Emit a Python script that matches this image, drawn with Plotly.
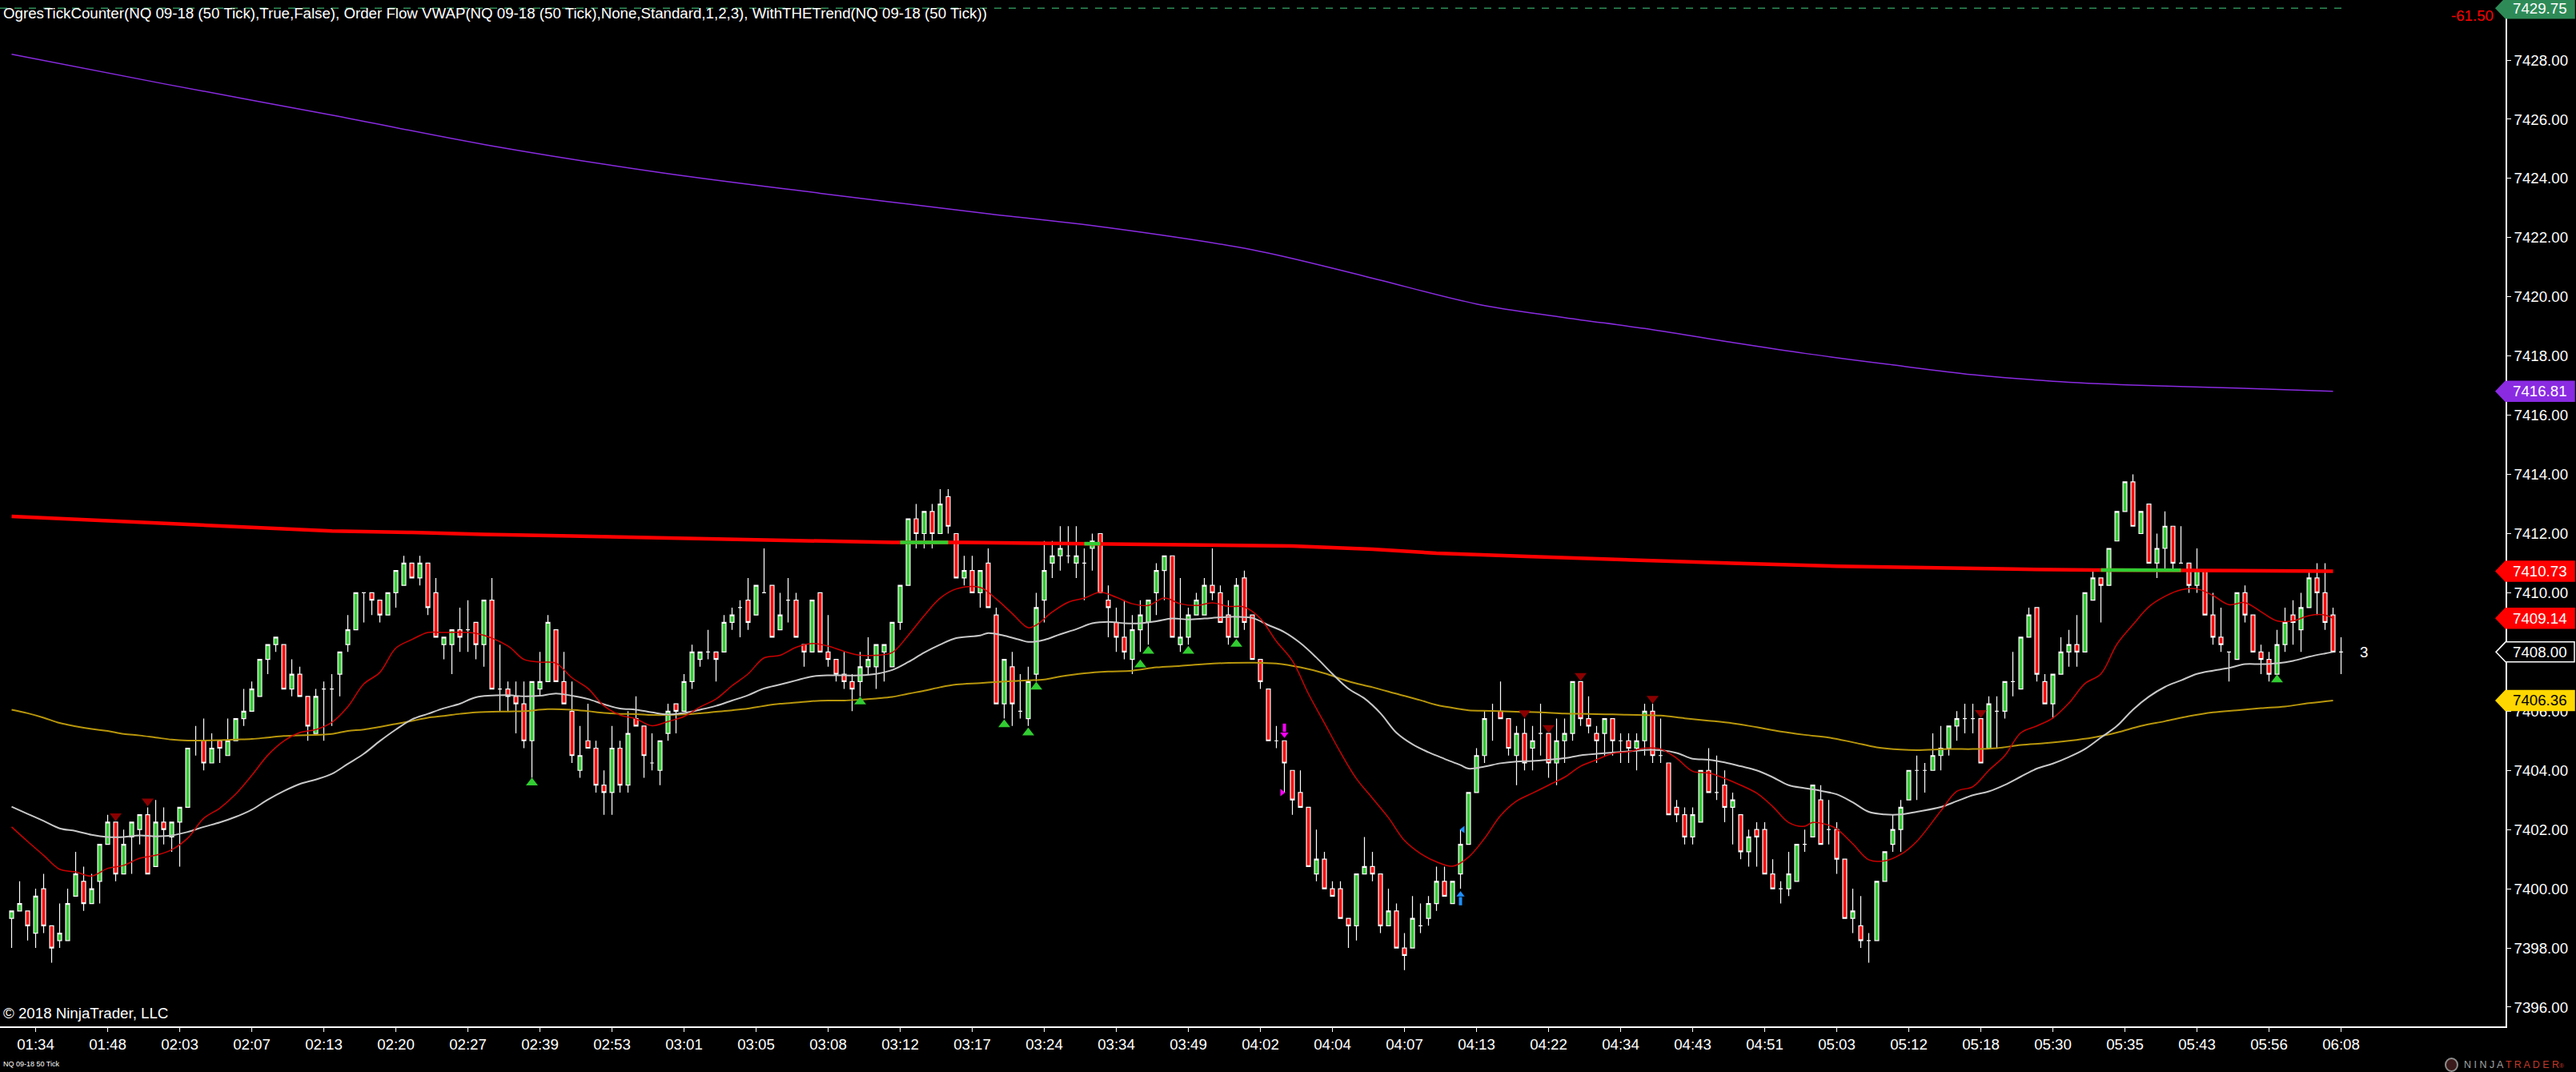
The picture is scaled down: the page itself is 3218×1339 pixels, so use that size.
import plotly.graph_objects as go

# NQ 09-18, 50 tick bars (one value per bar)
opens = [
    7399.0, 7399.25, 7399.25, 7398.5, 7400.0, 7398.75, 7398.25, 7398.25, 7399.75, 7400.25,
    7399.5, 7400.25, 7401.5, 7402.25, 7400.5, 7401.75, 7402.0, 7402.5, 7400.75, 7402.25,
    7401.75, 7402.25, 7402.75, 7405.0, 7405.0, 7404.25, 7405.0, 7404.5, 7405.0, 7405.75,
    7406.0, 7406.5, 7407.75, 7408.25, 7408.25, 7406.75, 7407.25, 7406.5, 7405.25, 7406.75,
    7406.75, 7407.25, 7408.25, 7408.75, 7410.0, 7410.0, 7409.75, 7409.25, 7410.0, 7410.25,
    7411.0, 7410.5, 7411.0, 7410.0, 7408.25, 7408.25, 7408.75, 7408.75, 7409.0, 7408.25,
    7409.75, 7406.75, 7406.75, 7406.5, 7406.25, 7405.0, 7406.75, 7407.0, 7408.75, 7407.0,
    7406.0, 7404.0, 7405.0, 7404.75, 7403.5, 7403.25, 7404.75, 7403.5, 7405.75, 7405.5,
    7404.25, 7404.0, 7405.25, 7406.25, 7406.0, 7407.0, 7407.75, 7408.0, 7408.0, 7408.0,
    7409.0, 7409.5, 7409.75, 7409.25, 7410.0, 7410.25, 7408.75, 7409.75, 7409.75, 7408.25,
    7408.0, 7410.0, 7408.0, 7407.75, 7407.25, 7407.0, 7407.0, 7407.5, 7407.5, 7408.0,
    7407.5, 7409.0, 7410.25, 7412.5, 7412.0, 7412.75, 7412.0, 7413.25, 7412.0, 7410.5,
    7410.75, 7410.0, 7411.0, 7409.25, 7406.25, 7407.5, 7406.0, 7405.75, 7407.25, 7409.75,
    7411.0, 7411.25, 7411.25, 7411.0, 7411.0, 7411.5, 7412.0, 7409.75, 7409.0, 7408.5,
    7407.75, 7408.75, 7409.0, 7410.0, 7410.75, 7411.25, 7408.25, 7408.5, 7409.25, 7409.25,
    7410.25, 7410.0, 7409.25, 7408.5, 7410.5, 7409.25, 7407.75, 7406.75, 7405.0, 7405.0,
    7404.0, 7403.25, 7402.75, 7400.5, 7401.0, 7400.0, 7400.0, 7399.0, 7398.75, 7400.5,
    7400.75, 7400.5, 7398.75, 7399.25, 7398.0, 7398.0, 7398.75, 7399.0, 7399.5, 7400.25,
    7399.5, 7400.5, 7401.5, 7403.25, 7404.5, 7406.0, 7406.0, 7405.75, 7404.5, 7405.25,
    7404.75, 7405.25, 7405.25, 7404.25, 7405.0, 7405.25, 7407.0, 7405.75, 7405.25, 7405.25,
    7405.75, 7405.0, 7405.0, 7404.75, 7405.0, 7406.0, 7404.5, 7404.25, 7402.75, 7402.5,
    7401.75, 7402.25, 7404.0, 7403.25, 7403.5, 7402.75, 7402.5, 7401.25, 7402.0, 7402.0,
    7400.5, 7400.0, 7400.0, 7400.25, 7401.5, 7401.75, 7403.0, 7402.0, 7402.0, 7401.0,
    7399.0, 7398.75, 7398.25, 7398.25, 7400.25, 7401.5, 7402.0, 7403.0, 7404.0, 7404.0,
    7404.0, 7404.5, 7404.75, 7405.5, 7405.75, 7405.75, 7405.75, 7404.75, 7406.0, 7406.0,
    7407.0, 7406.75, 7408.5, 7409.5, 7407.0, 7406.25, 7407.25, 7408.0, 7408.25, 7408.0,
    7409.75, 7410.5, 7410.25, 7411.75, 7412.75, 7413.75, 7412.0, 7413.0, 7411.0, 7411.5,
    7412.25, 7411.0, 7411.0, 7410.25, 7410.75, 7409.25, 7408.5, 7408.0, 7407.75, 7410.0,
    7409.25, 7408.0, 7407.75, 7407.25, 7408.25, 7409.25, 7408.75, 7409.5, 7410.5, 7410.0,
    7409.25, 7408.0,
]
highs = [
    7399.25, 7400.25, 7399.25, 7400.0, 7400.5, 7398.75, 7399.5, 7400.0, 7401.25, 7400.75,
    7400.5, 7401.5, 7402.5, 7402.25, 7402.0, 7402.25, 7402.5, 7402.75, 7403.0, 7402.75,
    7402.25, 7402.75, 7404.75, 7405.5, 7405.75, 7405.25, 7405.0, 7405.75, 7405.75, 7406.75,
    7407.0, 7407.75, 7408.25, 7408.5, 7408.25, 7407.75, 7407.5, 7406.5, 7406.75, 7407.0,
    7407.25, 7408.0, 7409.25, 7410.0, 7410.0, 7410.0, 7409.75, 7410.0, 7410.75, 7411.25,
    7411.0, 7411.25, 7411.0, 7410.5, 7408.5, 7408.75, 7409.5, 7409.75, 7409.0, 7409.75,
    7410.5, 7408.25, 7407.0, 7407.0, 7407.0, 7407.0, 7408.0, 7409.25, 7408.75, 7408.0,
    7407.0, 7405.5, 7406.25, 7405.0, 7404.0, 7405.5, 7405.0, 7406.0, 7406.5, 7405.5,
    7405.25, 7405.0, 7406.25, 7406.25, 7407.25, 7408.25, 7408.0, 7408.75, 7408.0, 7409.25,
    7409.5, 7409.75, 7410.5, 7410.25, 7411.5, 7410.25, 7410.0, 7410.5, 7410.0, 7408.25,
    7409.75, 7410.0, 7409.25, 7407.75, 7408.0, 7407.25, 7408.0, 7408.5, 7408.25, 7408.25,
    7409.0, 7410.25, 7412.5, 7413.0, 7412.75, 7413.0, 7413.5, 7413.5, 7412.0, 7411.25,
    7411.25, 7410.75, 7411.5, 7409.5, 7407.75, 7408.0, 7407.25, 7407.5, 7410.0, 7411.75,
    7411.75, 7412.25, 7412.25, 7412.25, 7411.5, 7412.0, 7412.0, 7410.25, 7409.5, 7409.75,
    7409.25, 7409.75, 7409.75, 7411.0, 7411.25, 7411.25, 7410.5, 7409.5, 7410.0, 7410.5,
    7411.5, 7410.25, 7409.75, 7410.5, 7410.75, 7409.25, 7407.75, 7406.75, 7405.5, 7405.0,
    7404.0, 7404.0, 7402.75, 7402.0, 7401.25, 7400.25, 7400.25, 7399.0, 7400.5, 7401.75,
    7401.25, 7400.5, 7400.0, 7399.5, 7398.5, 7399.75, 7399.5, 7399.75, 7400.75, 7400.75,
    7400.25, 7402.0, 7403.25, 7404.75, 7406.0, 7406.25, 7407.0, 7405.75, 7405.5, 7405.75,
    7405.5, 7406.25, 7405.25, 7405.75, 7405.75, 7407.0, 7407.0, 7406.5, 7405.5, 7405.75,
    7405.75, 7405.25, 7405.25, 7405.25, 7406.25, 7406.25, 7405.75, 7404.25, 7403.0, 7402.75,
    7402.75, 7404.0, 7404.75, 7404.5, 7404.0, 7403.25, 7402.5, 7402.0, 7402.25, 7402.25,
    7401.0, 7400.25, 7401.25, 7401.5, 7402.0, 7403.5, 7403.5, 7403.0, 7402.25, 7401.0,
    7400.0, 7399.75, 7398.5, 7400.25, 7401.25, 7402.5, 7403.0, 7404.0, 7404.5, 7404.25,
    7405.25, 7405.5, 7405.5, 7406.0, 7406.25, 7406.25, 7405.75, 7406.5, 7406.5, 7407.0,
    7408.0, 7408.5, 7409.5, 7409.5, 7407.25, 7407.25, 7408.5, 7408.75, 7409.25, 7410.0,
    7410.75, 7410.5, 7411.5, 7412.75, 7413.75, 7414.0, 7412.75, 7413.0, 7412.0, 7412.75,
    7412.25, 7412.25, 7411.0, 7411.5, 7410.75, 7410.0, 7409.5, 7408.0, 7410.0, 7410.25,
    7409.25, 7408.25, 7408.0, 7408.75, 7409.5, 7409.75, 7410.0, 7410.75, 7411.0, 7411.0,
    7409.5, 7408.5,
]
lows = [
    7398.0, 7399.25, 7398.25, 7398.0, 7398.5, 7397.5, 7398.0, 7398.25, 7399.75, 7399.25,
    7399.5, 7399.5, 7401.5, 7400.25, 7400.5, 7400.5, 7401.5, 7400.5, 7400.75, 7401.5,
    7401.25, 7400.75, 7402.75, 7404.5, 7404.0, 7404.25, 7404.25, 7404.5, 7405.0, 7405.5,
    7406.0, 7406.5, 7407.25, 7408.0, 7406.75, 7406.5, 7406.5, 7405.0, 7405.25, 7405.0,
    7405.5, 7406.5, 7408.0, 7408.75, 7409.0, 7409.25, 7409.0, 7409.25, 7409.5, 7410.25,
    7410.5, 7410.25, 7409.25, 7408.5, 7407.75, 7407.25, 7408.0, 7408.0, 7407.75, 7407.5,
    7406.75, 7406.0, 7406.0, 7405.25, 7404.75, 7403.75, 7406.5, 7407.0, 7407.0, 7406.25,
    7404.25, 7403.75, 7404.75, 7403.25, 7402.5, 7402.5, 7403.25, 7403.25, 7405.5, 7403.75,
    7404.0, 7403.5, 7405.0, 7405.25, 7406.0, 7406.75, 7407.5, 7407.75, 7407.0, 7408.0,
    7408.75, 7408.5, 7408.75, 7409.25, 7410.0, 7408.5, 7408.75, 7409.0, 7408.5, 7407.5,
    7408.0, 7408.0, 7407.5, 7407.0, 7406.75, 7406.0, 7406.5, 7407.25, 7406.75, 7407.0,
    7407.5, 7408.75, 7410.25, 7411.5, 7411.5, 7411.5, 7412.0, 7412.0, 7410.5, 7410.25,
    7410.0, 7409.5, 7409.5, 7406.25, 7405.75, 7405.5, 7405.75, 7405.5, 7407.0, 7409.0,
    7410.5, 7410.75, 7411.0, 7410.5, 7409.75, 7410.75, 7410.0, 7408.5, 7408.0, 7407.75,
    7407.25, 7408.0, 7408.25, 7409.25, 7409.75, 7408.5, 7408.0, 7408.25, 7409.25, 7409.25,
    7409.75, 7409.0, 7408.25, 7408.5, 7408.75, 7407.75, 7406.75, 7405.0, 7404.75, 7403.25,
    7402.5, 7402.75, 7400.75, 7400.25, 7400.0, 7399.75, 7399.0, 7398.0, 7398.25, 7400.5,
    7400.25, 7398.5, 7398.75, 7398.0, 7397.25, 7398.0, 7398.5, 7398.75, 7399.25, 7399.75,
    7399.5, 7400.0, 7401.5, 7403.25, 7404.25, 7405.0, 7405.75, 7404.5, 7403.5, 7404.0,
    7404.0, 7404.5, 7403.75, 7403.5, 7404.25, 7405.0, 7405.5, 7405.25, 7404.25, 7404.5,
    7404.5, 7404.25, 7404.25, 7404.0, 7404.5, 7404.25, 7404.25, 7402.5, 7402.25, 7401.5,
    7401.5, 7402.25, 7403.25, 7403.0, 7402.25, 7401.5, 7401.0, 7400.75, 7400.75, 7400.5,
    7400.0, 7399.5, 7399.75, 7400.25, 7401.25, 7401.75, 7401.5, 7401.5, 7400.5, 7399.0,
    7398.5, 7398.0, 7397.5, 7398.25, 7400.25, 7401.25, 7401.25, 7403.0, 7403.0, 7403.25,
    7404.0, 7404.0, 7404.5, 7405.0, 7405.25, 7405.25, 7404.25, 7404.75, 7404.75, 7405.75,
    7406.5, 7406.75, 7408.5, 7407.0, 7406.25, 7405.75, 7407.25, 7407.5, 7407.5, 7408.0,
    7409.75, 7409.0, 7410.25, 7411.75, 7412.75, 7412.25, 7412.0, 7411.0, 7410.5, 7410.75,
    7410.75, 7411.0, 7410.0, 7410.0, 7409.25, 7408.25, 7408.0, 7407.0, 7407.75, 7409.0,
    7408.0, 7407.25, 7407.0, 7407.25, 7408.0, 7408.25, 7408.0, 7409.5, 7409.25, 7408.75,
    7408.0, 7407.25,
]
closes = [
    7399.25, 7399.5, 7398.75, 7399.75, 7398.75, 7398.0, 7398.5, 7399.5, 7400.5, 7399.5,
    7400.0, 7401.5, 7402.25, 7400.5, 7401.5, 7402.25, 7402.5, 7400.5, 7402.25, 7402.0,
    7402.25, 7402.75, 7404.75, 7405.0, 7404.25, 7404.75, 7404.75, 7405.0, 7405.75, 7406.0,
    7406.75, 7407.75, 7408.25, 7408.5, 7406.75, 7407.25, 7406.5, 7405.5, 7406.5, 7406.75,
    7406.75, 7408.0, 7408.75, 7410.0, 7410.0, 7409.75, 7409.25, 7410.0, 7410.75, 7411.0,
    7410.5, 7411.0, 7409.5, 7408.5, 7408.5, 7408.75, 7408.5, 7408.75, 7408.25, 7409.75,
    7406.75, 7406.75, 7406.5, 7406.25, 7405.0, 7407.0, 7407.0, 7409.0, 7407.0, 7406.25,
    7404.5, 7404.5, 7404.75, 7403.5, 7403.25, 7404.75, 7403.5, 7405.25, 7405.5, 7404.5,
    7404.25, 7405.0, 7406.0, 7406.0, 7407.0, 7408.0, 7408.0, 7408.0, 7407.75, 7409.0,
    7409.25, 7409.5, 7409.0, 7410.25, 7410.0, 7408.5, 7409.25, 7409.75, 7408.5, 7408.0,
    7409.75, 7408.0, 7407.75, 7407.25, 7407.0, 7406.75, 7407.5, 7407.75, 7408.25, 7408.25,
    7409.0, 7410.25, 7412.5, 7412.0, 7412.75, 7412.0, 7413.0, 7412.25, 7410.5, 7410.75,
    7410.0, 7410.75, 7409.5, 7406.25, 7407.75, 7406.25, 7406.0, 7407.0, 7409.5, 7410.75,
    7411.25, 7411.5, 7411.25, 7411.25, 7411.0, 7411.75, 7410.0, 7409.5, 7408.5, 7408.0,
    7408.75, 7409.25, 7409.75, 7410.75, 7411.25, 7408.5, 7408.5, 7409.25, 7409.75, 7410.25,
    7410.0, 7409.0, 7408.5, 7410.25, 7409.0, 7407.75, 7407.0, 7405.0, 7405.0, 7404.25,
    7403.0, 7402.75, 7400.75, 7401.0, 7400.0, 7399.75, 7399.0, 7398.75, 7400.5, 7400.75,
    7400.5, 7398.75, 7399.25, 7398.0, 7397.75, 7399.0, 7398.75, 7399.5, 7400.25, 7399.75,
    7400.25, 7401.5, 7403.25, 7404.5, 7405.75, 7406.0, 7405.75, 7404.75, 7405.25, 7404.25,
    7405.0, 7405.25, 7404.25, 7405.0, 7405.25, 7407.0, 7405.75, 7405.5, 7405.0, 7405.75,
    7405.0, 7405.0, 7404.75, 7405.0, 7406.0, 7404.5, 7404.5, 7402.5, 7402.5, 7401.75,
    7402.5, 7404.0, 7403.25, 7403.25, 7402.75, 7403.0, 7401.25, 7401.75, 7401.75, 7400.5,
    7400.0, 7400.0, 7400.5, 7401.5, 7401.5, 7403.5, 7401.5, 7402.0, 7401.0, 7399.0,
    7399.25, 7398.25, 7398.25, 7400.25, 7401.25, 7402.0, 7402.75, 7404.0, 7404.0, 7404.0,
    7404.5, 7404.75, 7405.5, 7405.75, 7405.75, 7405.75, 7404.25, 7406.25, 7406.0, 7407.0,
    7407.0, 7408.5, 7409.25, 7407.25, 7406.25, 7407.25, 7408.0, 7408.25, 7408.0, 7410.0,
    7410.5, 7410.25, 7411.5, 7412.75, 7413.75, 7412.25, 7412.75, 7411.0, 7411.5, 7412.25,
    7411.0, 7411.0, 7410.25, 7410.75, 7409.25, 7408.5, 7408.25, 7408.0, 7410.0, 7409.25,
    7408.0, 7407.75, 7407.25, 7408.25, 7409.0, 7409.0, 7409.5, 7410.5, 7410.0, 7409.0,
    7408.0, 7408.0,
]

time_labels = ["01:34", "01:48", "02:03", "02:07", "02:13", "02:20", "02:27", "02:39", "02:53",
               "03:01", "03:05", "03:08", "03:12", "03:17", "03:24", "03:34", "03:49", "04:02",
               "04:04", "04:07", "04:13", "04:22", "04:34", "04:43", "04:51", "05:03", "05:12",
               "05:18", "05:30", "05:35", "05:43", "05:56", "06:08"]
tick_bars = list(range(3, 292, 9))

# indicator lines, read at selected bars
ema_bars = [0, 2, 4, 6, 8, 10, 12, 14, 16, 18, 20, 22, 24, 26, 28, 30, 32, 34, 36, 38, 40, 42, 44,
            46, 48, 50, 52, 54, 58, 62, 64, 66, 68, 70, 72, 74, 76, 78, 80, 82, 84, 86, 88, 90,
            92, 94, 96, 98, 100, 102, 104, 106, 108, 110, 112, 114, 116, 118, 121, 123, 125, 127,
            128, 130, 132, 134, 136, 138, 140, 142, 144, 146, 148, 150, 152, 154, 156, 158, 160,
            162, 164, 166, 168, 170, 172, 174, 176, 178, 180, 182, 184, 186, 188, 190, 192, 194,
            196, 198, 200, 202, 204, 206, 208, 210, 212, 214, 216, 218, 220, 222, 224, 225, 227,
            228, 230, 232, 234, 236, 238, 241, 243, 245, 247, 249, 251, 253, 255, 257, 259, 261,
            263, 265, 267, 269, 271, 273, 275, 277, 279, 281, 283, 285, 287, 289, 290]
ema_vals = [7402.09, 7401.6, 7401.13, 7400.66, 7400.57, 7400.43, 7400.69, 7400.79, 7401.03,
            7401.13, 7401.32, 7401.71, 7402.38, 7402.72, 7403.2, 7403.83, 7404.51, 7404.99,
            7405.28, 7405.38, 7405.62, 7406.15, 7406.92, 7407.31, 7408.13, 7408.42, 7408.66,
            7408.66, 7408.63, 7408.2, 7407.75, 7407.66, 7407.62, 7407.13, 7406.77, 7406.18,
            7405.87, 7405.74, 7405.51, 7405.65, 7405.82, 7406.14, 7406.41, 7406.86, 7407.26,
            7407.8, 7407.89, 7408.16, 7408.29, 7408.2, 7408.02, 7407.89, 7407.89, 7407.98,
            7408.56, 7409.23, 7409.82, 7410.13, 7410.18, 7409.79, 7409.3, 7408.82, 7408.91,
            7409.35, 7409.68, 7409.82, 7410.02, 7409.85, 7409.63, 7409.57, 7409.82, 7409.63,
            7409.57, 7409.66, 7409.54, 7409.52, 7409.13, 7408.36, 7407.7, 7406.59, 7405.6,
            7404.61, 7403.72, 7403.06, 7402.4, 7401.63, 7401.19, 7400.91, 7400.76, 7401.07,
            7401.7, 7402.47, 7402.96, 7403.23, 7403.5, 7403.77, 7404.14, 7404.36, 7404.57,
            7404.63, 7404.75, 7404.72, 7404.41, 7403.97, 7403.91, 7403.73, 7403.5, 7403.23,
            7402.78, 7402.24, 7402.11, 7402.24, 7402.15, 7402.02, 7401.52, 7400.98, 7400.94,
            7401.16, 7401.6, 7402.63, 7403.29, 7403.45, 7404.0, 7404.5, 7405.27, 7405.5,
            7405.77, 7406.27, 7406.93, 7407.26, 7408.26, 7408.92, 7409.53, 7409.88, 7410.1,
            7410.13, 7409.91, 7409.6, 7409.67, 7409.36, 7409.05, 7409.05, 7409.23, 7409.25,
            7409.14]

sma_bars = [0, 2, 4, 6, 8, 10, 12, 14, 16, 18, 20, 22, 24, 26, 28, 30, 32, 34, 36, 38, 40, 42, 44,
            46, 48, 50, 52, 54, 56, 58, 62, 64, 66, 68, 70, 72, 74, 76, 78, 80, 82, 84, 86, 88,
            90, 92, 94, 96, 98, 100, 102, 104, 106, 108, 110, 112, 114, 116, 118, 121, 122, 124,
            126, 127, 129, 131, 133, 135, 137, 139, 141, 143, 145, 147, 149, 151, 153, 155, 157,
            159, 161, 163, 165, 167, 169, 171, 173, 175, 177, 179, 181, 182, 184, 186, 188, 190,
            192, 194, 196, 198, 200, 202, 204, 206, 208, 210, 212, 214, 216, 218, 220, 222, 224,
            226, 228, 230, 232, 234, 236, 238, 241, 243, 245, 247, 249, 251, 253, 255, 257, 259,
            261, 263, 265, 267, 269, 271, 273, 275, 277, 279, 281, 283, 285, 287, 289, 290]
sma_vals = [7402.77, 7402.53, 7402.29, 7402.04, 7401.95, 7401.82, 7401.75, 7401.75, 7401.8,
            7401.77, 7401.8, 7401.92, 7402.09, 7402.24, 7402.43, 7402.67, 7403.01, 7403.3,
            7403.54, 7403.69, 7403.88, 7404.22, 7404.56, 7404.99, 7405.38, 7405.72, 7405.91,
            7406.1, 7406.25, 7406.47, 7406.54, 7406.5, 7406.52, 7406.6, 7406.52, 7406.41,
            7406.23, 7406.09, 7406.05, 7405.96, 7405.89, 7405.94, 7406.05, 7406.18, 7406.36,
            7406.54, 7406.77, 7406.9, 7407.04, 7407.17, 7407.21, 7407.21, 7407.21, 7407.26,
            7407.39, 7407.66, 7407.98, 7408.25, 7408.47, 7408.56, 7408.64, 7408.55, 7408.41,
            7408.34, 7408.41, 7408.6, 7408.77, 7408.97, 7409.02, 7408.97, 7408.97, 7409.04,
            7409.13, 7409.1, 7409.13, 7409.17, 7409.19, 7409.15, 7408.91, 7408.67, 7408.3,
            7407.81, 7407.26, 7406.76, 7406.43, 7405.93, 7405.27, 7404.88, 7404.61, 7404.39,
            7404.18, 7404.06, 7404.13, 7404.24, 7404.3, 7404.32, 7404.36, 7404.41, 7404.51,
            7404.56, 7404.6, 7404.64, 7404.69, 7404.68, 7404.59, 7404.39, 7404.36, 7404.27,
            7404.14, 7404.0, 7403.77, 7403.5, 7403.4, 7403.31, 7403.19, 7402.92, 7402.6,
            7402.51, 7402.51, 7402.6, 7402.76, 7402.96, 7403.16, 7403.29, 7403.51, 7403.79,
            7404.06, 7404.23, 7404.45, 7404.72, 7405.11, 7405.5, 7406.05, 7406.49, 7406.82,
            7407.04, 7407.26, 7407.37, 7407.46, 7407.59, 7407.59, 7407.62, 7407.7, 7407.84,
            7407.95, 7408.0]

gold_bars = [0, 2, 4, 6, 8, 10, 12, 14, 16, 18, 20, 22, 24, 26, 28, 30, 32, 34, 36, 38, 40, 42,
             44, 46, 48, 50, 52, 54, 56, 58, 62, 64, 67, 70, 72, 74, 76, 78, 80, 82, 84, 86, 88,
             90, 92, 94, 96, 98, 100, 102, 104, 106, 108, 110, 112, 114, 116, 118, 121, 124, 127,
             129, 131, 134, 137, 140, 143, 146, 149, 152, 155, 158, 161, 164, 167, 170, 173, 176,
             178, 181, 182, 185, 188, 191, 194, 197, 200, 203, 206, 209, 212, 215, 218, 221, 224,
             227, 230, 233, 236, 238, 242, 245, 248, 251, 254, 257, 260, 263, 266, 269, 272, 275,
             278, 281, 284, 287, 290]
gold_vals = [7406.05, 7405.93, 7405.78, 7405.6, 7405.49, 7405.4, 7405.33, 7405.23, 7405.18,
             7405.11, 7405.04, 7405.01, 7405.01, 7405.02, 7405.04, 7405.06, 7405.11, 7405.16,
             7405.18, 7405.2, 7405.23, 7405.33, 7405.38, 7405.47, 7405.57, 7405.67, 7405.78,
             7405.84, 7405.91, 7405.96, 7405.99, 7406.0, 7406.07, 7406.05, 7406.0, 7405.94,
             7405.91, 7405.9, 7405.87, 7405.87, 7405.89, 7405.93, 7405.98, 7406.03, 7406.09,
             7406.18, 7406.25, 7406.29, 7406.34, 7406.36, 7406.36, 7406.39, 7406.43, 7406.48,
             7406.59, 7406.69, 7406.81, 7406.9, 7406.95, 7407.0, 7407.04, 7407.07, 7407.17,
             7407.28, 7407.34, 7407.37, 7407.48, 7407.53, 7407.59, 7407.63, 7407.64, 7407.61,
             7407.48, 7407.28, 7407.01, 7406.81, 7406.59, 7406.37, 7406.21, 7406.07, 7406.03,
             7406.01, 7405.98, 7405.96, 7405.92, 7405.91, 7405.89, 7405.87, 7405.85, 7405.76,
             7405.68, 7405.59, 7405.46, 7405.31, 7405.2, 7405.11, 7404.95, 7404.78, 7404.7,
             7404.68, 7404.72, 7404.72, 7404.75, 7404.86, 7404.92, 7405.0, 7405.11, 7405.28,
             7405.5, 7405.66, 7405.83, 7405.96, 7406.03, 7406.1, 7406.16, 7406.27, 7406.36]

vwap_bars = [0, 10, 20, 30, 40, 50, 59, 70, 80, 90, 100, 110, 119, 130, 140, 150, 160, 170, 178,
             190, 200, 215, 228, 237, 250, 260, 270, 280, 290]
vwap_vals = [7412.58, 7412.45, 7412.33, 7412.19, 7412.09, 7412.04, 7411.97, 7411.92, 7411.86,
             7411.81, 7411.77, 7411.7, 7411.7, 7411.67, 7411.65, 7411.63, 7411.58, 7411.47,
             7411.34, 7411.22, 7411.12, 7411.0, 7410.9, 7410.85, 7410.8, 7410.77, 7410.76,
             7410.75, 7410.73]
# stretches where the VWAP is painted green
vwap_up_bars = [[111, 117], [134, 136], [261, 271]]
vwap_up_vals = [[7411.7, 7411.7], [7411.66, 7411.66], [7410.77, 7410.76]]

purple_bars = [0, 19, 40, 60, 81, 101, 122, 138, 155, 169, 183, 194, 204, 214, 224, 235, 245,
               255, 265, 278, 290]
purple_vals = [7428.2, 7427.2, 7426.14, 7425.1, 7424.2, 7423.5, 7422.81, 7422.3, 7421.59,
               7420.7, 7419.76, 7419.3, 7418.93, 7418.5, 7418.09, 7417.7, 7417.37, 7417.15,
               7417.02, 7416.92, 7416.81]

# signal markers
sell_bars = [13, 17, 189, 192, 196, 205, 246]
sell_vals = [7402.46, 7402.96, 7405.94, 7405.44, 7407.2, 7406.43, 7405.95]
buy_bars = [65, 106, 124, 127, 128, 141, 142, 147, 153, 283]
buy_vals = [7403.58, 7406.32, 7405.55, 7405.27, 7406.82, 7407.57, 7408.03, 7408.03, 7408.27,
            7407.06]

# right-hand price tags
tag_values = [7429.75, 7416.81, 7410.73, 7409.14, 7408.00, 7406.36]
tag_fill = ["#2e8b57", "#8a2be2", "#ff0000", "#ff0000", "#000000", "#ffd700"]
tag_font = ["white", "white", "white", "white", "white", "black"]

Y_LO, Y_HI = 7395.35, 7430.03
PLOT_W, PLOT_H = 3130, 1282
FONT = "Liberation Sans, Arial, sans-serif"


def py(v):
    return (v - Y_LO) / (Y_HI - Y_LO)


def px_x(x):
    return x / PLOT_W


def px_y(y):
    return 1 - y / PLOT_H


bars = list(range(len(opens)))

fig = go.Figure()

fig.add_trace(go.Candlestick(
    x=bars, open=opens, high=highs, low=lows, close=closes,
    increasing=dict(line=dict(color="white", width=1.2), fillcolor="#32cd32"),
    decreasing=dict(line=dict(color="white", width=1.2), fillcolor="#ff0000"),
    whiskerwidth=0, hoverinfo="skip", showlegend=False,
))

fig.add_trace(go.Scatter(x=purple_bars, y=purple_vals, mode="lines", line_shape="spline",
                         line=dict(color="#8a2be2", width=1.5), hoverinfo="skip"))
fig.add_trace(go.Scatter(x=gold_bars, y=gold_vals, mode="lines", line_shape="spline",
                         line=dict(color="#b8960b", width=2), hoverinfo="skip"))
fig.add_trace(go.Scatter(x=sma_bars, y=sma_vals, mode="lines", line_shape="spline",
                         line=dict(color="#c8c8c8", width=2), hoverinfo="skip"))
fig.add_trace(go.Scatter(x=ema_bars, y=ema_vals, mode="lines", line_shape="spline",
                         line=dict(color="#cc0000", width=1.5), hoverinfo="skip"))
fig.add_trace(go.Scatter(x=vwap_bars, y=vwap_vals, mode="lines",
                         line=dict(color="#ff0000", width=4.5), hoverinfo="skip"))
for xs, ys in zip(vwap_up_bars, vwap_up_vals):
    fig.add_trace(go.Scatter(x=xs, y=ys, mode="lines",
                             line=dict(color="#32cd32", width=4.5), hoverinfo="skip"))

fig.add_trace(go.Scatter(x=sell_bars, y=sell_vals, mode="markers", hoverinfo="skip",
                         marker=dict(symbol="triangle-down", size=13, color="#8b0000")))
fig.add_trace(go.Scatter(x=buy_bars, y=buy_vals, mode="markers", hoverinfo="skip",
                         marker=dict(symbol="triangle-up", size=13, color="#32cd32")))
# small pointer triangles beside the arrows
fig.add_trace(go.Scatter(x=[158.7], y=[7403.25], mode="markers", hoverinfo="skip",
                         marker=dict(symbol="triangle-right", size=8, color="#ff00ff")))
fig.add_trace(go.Scatter(x=[181.3], y=[7402.0], mode="markers", hoverinfo="skip",
                         marker=dict(symbol="triangle-left", size=8, color="#1e90ff")))

# block arrows: shaft + head
fig.add_trace(go.Scatter(x=[159, 159], y=[7405.58, 7405.3], mode="lines", hoverinfo="skip",
                         line=dict(color="#ff00ff", width=4)))
fig.add_trace(go.Scatter(x=[159], y=[7405.22], mode="markers", hoverinfo="skip",
                         marker=dict(symbol="triangle-down", size=9, color="#ff00ff")))
fig.add_trace(go.Scatter(x=[181, 181], y=[7399.44, 7399.72], mode="lines", hoverinfo="skip",
                         line=dict(color="#1e90ff", width=4)))
fig.add_trace(go.Scatter(x=[181], y=[7399.8], mode="markers", hoverinfo="skip",
                         marker=dict(symbol="triangle-up", size=9, color="#1e90ff")))

# dashed session-high line
fig.add_shape(type="line", xref="x", yref="y", x0=-1.45, x1=291.5, y0=7429.75, y1=7429.75,
              line=dict(color="#2e8b57", width=1.5, dash="dash"))

# price tags on the axis
half = 12.5 / PLOT_H
for v, fill, fc in zip(tag_values, tag_fill, tag_font):
    yc = py(v)
    x_tip, x0, x1 = px_x(3118), 1.0, px_x(3216)
    path = (f"M{x_tip},{yc} L{x0},{yc + half} L{x1},{yc + half} "
            f"L{x1},{yc - half} L{x0},{yc - half} Z")
    border = "white" if fill == "#000000" else fill
    fig.add_shape(type="path", xref="paper", yref="paper", path=path, layer="above",
                  fillcolor=fill, line=dict(color=border, width=1.5))
    fig.add_annotation(x=px_x(3137), y=yc, xref="paper", yref="paper", text=f"{v:.2f}",
                       showarrow=False, xanchor="left", yanchor="middle",
                       font=dict(family=FONT, size=18.7, color=fc))

# texts
fig.add_annotation(x=px_x(2), y=px_y(16.5), xref="paper", yref="paper", showarrow=False,
                   xanchor="left", yanchor="middle", font=dict(family=FONT, size=18.7, color="white"),
                   text="OgresTickCounter(NQ 09-18 (50 Tick),True,False), Order Flow VWAP(NQ 09-18 "
                        "(50 Tick),None,Standard,1,2,3), WithTHETrend(NQ 09-18 (50 Tick))")
fig.add_annotation(x=px_x(3117), y=px_y(20), xref="paper", yref="paper", showarrow=False,
                   xanchor="right", yanchor="middle", text="-61.50",
                   font=dict(family=FONT, size=18.7, color="#ff0000"))
fig.add_annotation(x=293.85, y=7408.0, xref="x", yref="y", showarrow=False, text="3",
                   font=dict(family=FONT, size=18.7, color="white"))
fig.add_annotation(x=px_x(2), y=px_y(1265), xref="paper", yref="paper", showarrow=False,
                   xanchor="left", yanchor="middle", text="© 2018 NinjaTrader, LLC",
                   font=dict(family=FONT, size=18.7, color="white"))
fig.add_annotation(x=px_x(2), y=px_y(1329), xref="paper", yref="paper", showarrow=False,
                   xanchor="left", yanchor="middle", text="NQ 09-18 50 Tick",
                   font=dict(family=FONT, size=9, color="white"))
fig.add_annotation(x=px_x(3076), y=px_y(1330), xref="paper", yref="paper", showarrow=False,
                   xanchor="left", yanchor="middle",
                   text="N I N J A <span style='color:#c0392b'>T R A D E R</span>"
                        "<span style='color:#c0392b;font-size:8px'>®</span>",
                   font=dict(family=FONT, size=12.5, color="#a0a0a0"))
fig.add_shape(type="circle", xref="paper", yref="paper", x0=px_x(3055), x1=px_x(3070),
              y0=px_y(1338), y1=px_y(1322), line=dict(color="#8c8c8c", width=2),
              fillcolor="#3a1a1a", layer="above")

fig.update_layout(
    width=3218, height=1339,
    paper_bgcolor="black", plot_bgcolor="black",
    margin=dict(l=0, r=88, t=0, b=57, pad=0),
    showlegend=False,
    font=dict(family=FONT, color="white"),
    xaxis=dict(
        range=[-1.45, 311.55], tickvals=tick_bars, ticktext=time_labels,
        ticks="outside", ticklen=5, tickcolor="white", tickwidth=1,
        showline=True, linecolor="white", linewidth=1.5,
        showgrid=False, zeroline=False, rangeslider=dict(visible=False),
        tickfont=dict(family=FONT, size=18.7, color="white"),
    ),
    yaxis=dict(
        side="right", range=[Y_LO, Y_HI], tick0=7396, dtick=2, tickformat=".2f",
        ticks="outside", ticklen=5, tickcolor="white", tickwidth=1,
        showline=True, linecolor="white", linewidth=1.5,
        showgrid=False, zeroline=False,
        tickfont=dict(family=FONT, size=18.7, color="white"),
    ),
)

fig.write_html("out.html", config={"displayModeBar": False},
               post_script="document.body.style.margin='0';document.body.style.overflow='hidden';")
